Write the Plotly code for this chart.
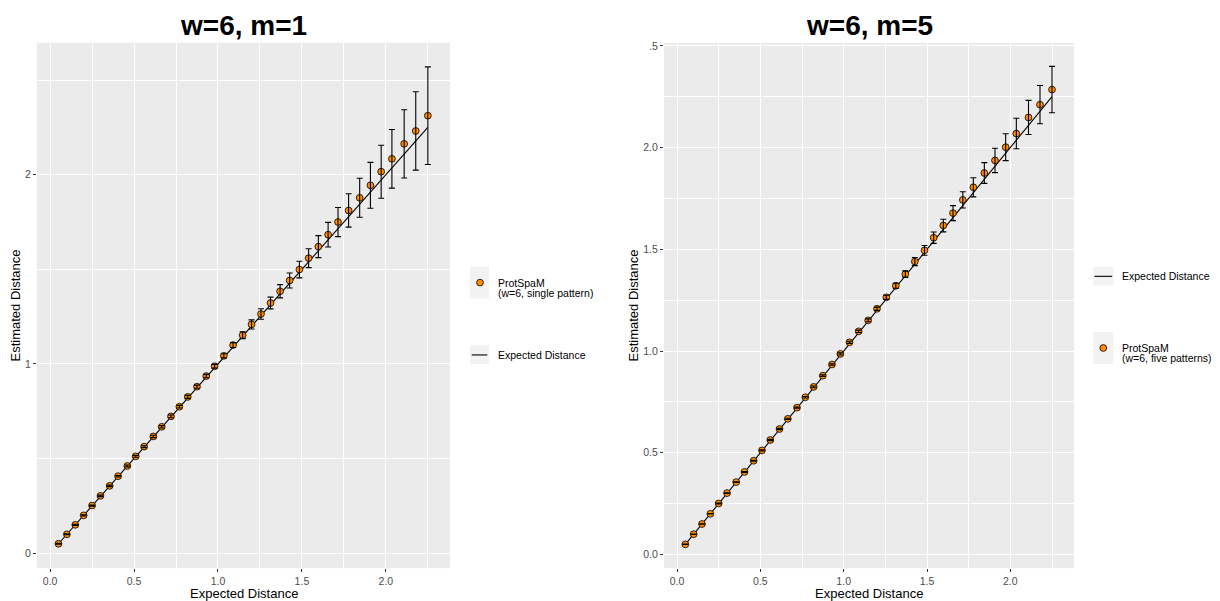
import plotly.graph_objects as go

# ---------------- data ----------------
expected_distance = [0.05, 0.10, 0.15, 0.20, 0.25, 0.30, 0.355, 0.405, 0.46, 0.51,
                     0.56, 0.615, 0.665, 0.72, 0.77, 0.82, 0.875, 0.93, 0.98, 1.035,
                     1.09, 1.147, 1.20, 1.256, 1.313, 1.37, 1.427, 1.485, 1.54, 1.598,
                     1.656, 1.715, 1.778, 1.844, 1.908, 1.972, 2.036, 2.109, 2.178, 2.25]

m1_estimated = [0.05, 0.10, 0.15, 0.20, 0.252, 0.303, 0.356, 0.407, 0.461, 0.512,
                0.563, 0.617, 0.668, 0.723, 0.774, 0.826, 0.88, 0.936, 0.988, 1.043,
                1.100, 1.152, 1.209, 1.264, 1.322, 1.384, 1.441, 1.499, 1.559, 1.620,
                1.683, 1.750, 1.811, 1.878, 1.944, 2.016, 2.084, 2.163, 2.231, 2.312]
m1_error = [0.002, 0.002, 0.003, 0.003, 0.003, 0.004, 0.004, 0.004, 0.005, 0.005,
            0.005, 0.006, 0.006, 0.007, 0.007, 0.008, 0.008, 0.009, 0.010, 0.011,
            0.013, 0.018, 0.024, 0.028, 0.031, 0.035, 0.040, 0.044, 0.050, 0.058,
            0.065, 0.077, 0.088, 0.103, 0.121, 0.140, 0.155, 0.180, 0.207, 0.258]

m5_estimated = [0.05, 0.10, 0.15, 0.20, 0.251, 0.302, 0.356, 0.406, 0.461, 0.512,
                0.563, 0.617, 0.667, 0.722, 0.773, 0.824, 0.879, 0.934, 0.986, 1.043,
                1.097, 1.151, 1.208, 1.264, 1.321, 1.378, 1.440, 1.495, 1.557, 1.617,
                1.678, 1.743, 1.805, 1.875, 1.937, 2.002, 2.069, 2.148, 2.211, 2.285]
m5_error = [0.001, 0.001, 0.001, 0.001, 0.002, 0.002, 0.002, 0.002, 0.002, 0.003,
            0.003, 0.003, 0.003, 0.003, 0.004, 0.004, 0.004, 0.004, 0.005, 0.005,
            0.006, 0.007, 0.008, 0.010, 0.012, 0.016, 0.020, 0.024, 0.028, 0.031,
            0.037, 0.040, 0.047, 0.051, 0.060, 0.066, 0.075, 0.084, 0.094, 0.114]

panel_titles = ["w=6, m=1", "w=6, m=5"]
x_title = "Expected Distance"
y_title = "Estimated Distance"
legend_m1 = ["ProtSpaM", "(w=6, single pattern)"]
legend_m5 = ["ProtSpaM", "(w=6, five patterns)"]
legend_line = "Expected Distance"

# ---------------- styling ----------------
W, H = 1220, 601
FONT = "Liberation Sans, Arial, Helvetica, sans-serif"
ORANGE = "#FF8C00"
PANEL_BG = "#EBEBEB"
KEY_BG = "#F2F2F2"


def fx(p):
    return p / W


def fy(p):
    return 1 - p / H


fig = go.Figure()


def add_panel(xa, ya, est, err):
    fig.add_trace(go.Scatter(x=expected_distance, y=expected_distance, mode="lines",
                             line=dict(color="black", width=1.1), xaxis=xa, yaxis=ya,
                             showlegend=False, name=legend_line))
    fig.add_trace(go.Scatter(x=expected_distance, y=est, mode="markers",
                             marker=dict(size=6.8, color=ORANGE, line=dict(color="black", width=0.8)),
                             xaxis=xa, yaxis=ya, showlegend=False, name="ProtSpaM"))
    fig.add_trace(go.Scatter(x=expected_distance, y=est, mode="markers",
                             marker=dict(size=1, color="rgba(0,0,0,0)"),
                             error_y=dict(type="data", array=err, color="black", thickness=1.1, width=3),
                             xaxis=xa, yaxis=ya, showlegend=False, hoverinfo="skip"))


add_panel("x", "y", m1_estimated, m1_error)
add_panel("x2", "y2", m5_estimated, m5_error)

ydom = [fy(568), fy(40)]
common_axis = dict(showgrid=True, gridcolor="white", gridwidth=1.1, zeroline=False,
                   showline=False, ticks="outside", ticklen=3, tickcolor="#333333", tickwidth=1,
                   tickfont=dict(family=FONT, size=10.5, color="#4D4D4D"))

xticks = dict(tickmode="array", tickvals=[0, 0.5, 1, 1.5, 2], ticktext=["0.0", "0.5", "1.0", "1.5", "2.0"],
              minor=dict(tickmode="array", tickvals=[0.25, 0.75, 1.25, 1.75, 2.25], showgrid=True,
                         gridcolor="white", gridwidth=0.55, ticks=""))

fig.update_layout(
    width=W, height=H, margin=dict(l=0, r=0, t=0, b=0),
    paper_bgcolor="white", plot_bgcolor=PANEL_BG, showlegend=False,
    font=dict(family=FONT),
    xaxis=dict(domain=[fx(37), fx(450)], range=[-0.078, 2.382], anchor="y", **xticks, **common_axis),
    yaxis=dict(domain=ydom, range=[-0.079, 2.697], anchor="x",
               tickmode="array", tickvals=[0, 1, 2], ticktext=["0", "1", "2"],
               minor=dict(tickmode="array", tickvals=[0.5, 1.5, 2.5], showgrid=True,
                          gridcolor="white", gridwidth=0.55, ticks=""), **common_axis),
    xaxis2=dict(domain=[fx(664), fx(1074)], range=[-0.078, 2.382], anchor="y2", **xticks, **common_axis),
    yaxis2=dict(domain=ydom, range=[-0.067, 2.515], anchor="x2",
                tickmode="array", tickvals=[0, 0.5, 1, 1.5, 2, 2.5],
                ticktext=["0.0", "0.5", "1.0", "1.5", "2.0", ".5"],
                minor=dict(tickmode="array", tickvals=[0.25, 0.75, 1.25, 1.75, 2.25], showgrid=True,
                           gridcolor="white", gridwidth=0.55, ticks=""), **common_axis),
)

ann = []
shapes = []


def text(x, y, s, size, bold=False, xanchor="center", angle=0, color="black"):
    ann.append(dict(x=fx(x), y=fy(y), xref="paper", yref="paper", text=f"<b>{s}</b>" if bold else s,
                    showarrow=False, xanchor=xanchor, yanchor="middle", textangle=angle,
                    font=dict(family=FONT, size=size, color=color)))


# titles
text(243.5, 23, panel_titles[0], 28, bold=True)
text(869, 23, panel_titles[1], 28, bold=True)
# axis titles
text(243.5, 593, x_title, 13)
text(869, 593, x_title, 13)
text(15, 304, y_title, 13, angle=-90)
text(633, 304, y_title, 13, angle=-90)


# legends (drawn keys)
def key_box(x0, x1, y0, y1):
    shapes.append(dict(type="rect", xref="paper", yref="paper", x0=fx(x0), x1=fx(x1), y0=fy(y1), y1=fy(y0),
                       fillcolor=KEY_BG, line=dict(width=0), layer="above"))


def key_point(cx, cy, r=3.4):
    shapes.append(dict(type="circle", xref="paper", yref="paper", x0=fx(cx - r), x1=fx(cx + r),
                       y0=fy(cy + r), y1=fy(cy - r), fillcolor=ORANGE, line=dict(color="black", width=0.8),
                       layer="above"))


def key_line(x0, x1, y):
    shapes.append(dict(type="line", xref="paper", yref="paper", x0=fx(x0), x1=fx(x1), y0=fy(y), y1=fy(y),
                       line=dict(color="black", width=1.1), layer="above"))


# left legend
key_box(470, 489, 265, 297)
key_point(480, 281)
text(495.5, 281.5, legend_m1[0], 10.5, xanchor="left")
text(495.5, 291, legend_m1[1], 10.5, xanchor="left")
key_box(470, 489, 344, 363)
key_line(471.7, 487.3, 353.7)
text(495.5, 354, legend_line, 10.5, xanchor="left")

# right legend
key_box(1093.3, 1113.3, 265, 284)
key_line(1094.5, 1112.2, 274.7)
text(1119.5, 274.7, legend_line, 10.5, xanchor="left")
key_box(1093.3, 1113.3, 330.7, 362.7)
key_point(1103.3, 346.7)
text(1119.5, 347, legend_m5[0], 10.5, xanchor="left")
text(1119.5, 356.5, legend_m5[1], 10.5, xanchor="left")

fig.update_layout(annotations=ann, shapes=shapes)
fig.write_html("out.html", config={"displayModeBar": False},
               post_script="document.body.style.margin='0px';document.body.style.overflow='hidden';")
